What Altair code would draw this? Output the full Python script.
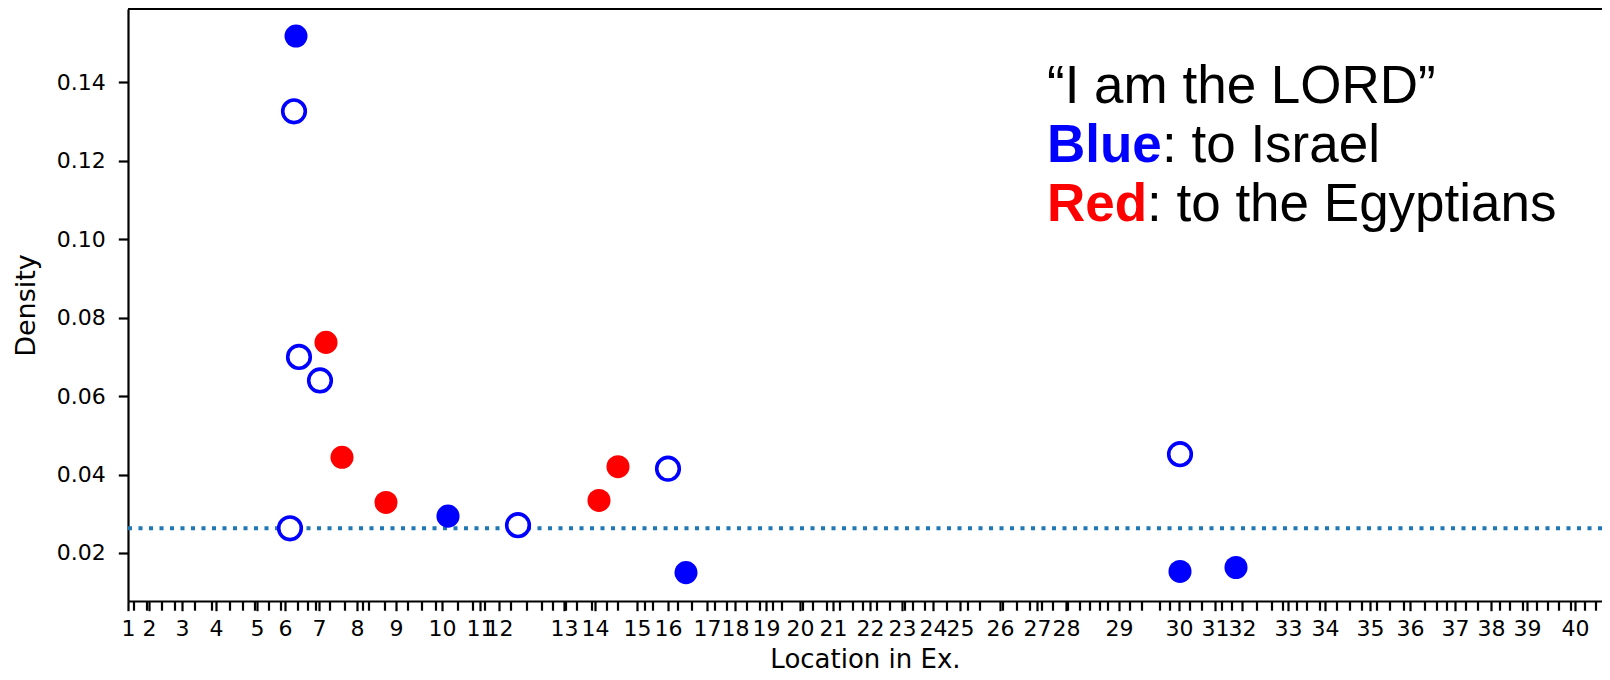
import altair as alt
import pandas as pd

# ---- data (x in arbitrary "location" units) ----
chapter_numbers = [str(i) for i in range(1, 41)]
chapter_starts = [0, 21, 54, 88, 129, 157, 191, 229, 268, 314, 352, 371, 436, 467,
                  509, 540, 579, 607, 638, 672, 705, 742, 774, 805, 832, 872, 909,
                  938, 991, 1051, 1087, 1114, 1160, 1197, 1242, 1282, 1327, 1363,
                  1399, 1447]
minor_ticks = [6, 19, 34, 47, 67, 84, 102, 115, 127, 141, 153, 170, 180, 188, 202,
               217, 235, 241, 257, 280, 294, 308, 330, 345, 357, 383, 399, 414, 425,
               438, 449, 464, 479, 490, 517, 525, 550, 564, 587, 599, 619, 632, 645,
               654, 675, 685, 699, 712, 725, 735, 749, 762, 777, 785, 797, 819, 840,
               852, 875, 889, 902, 914, 925, 940, 952, 962, 972, 980, 1002, 1014,
               1032, 1042, 1062, 1074, 1094, 1104, 1129, 1144, 1155, 1169, 1179,
               1192, 1209, 1222, 1234, 1249, 1262, 1276, 1297, 1309, 1319, 1338,
               1350, 1372, 1382, 1395, 1409, 1420, 1431, 1443, 1457, 1468]

israel_filled_loc = [168, 320, 558, 1052, 1108]
israel_filled_dens = [0.1518, 0.0294, 0.0150, 0.0153, 0.0163]
israel_open_loc = [166, 162, 171, 192, 390, 540, 1052]
israel_open_dens = [0.1326, 0.0263, 0.0700, 0.0640, 0.0271, 0.0415, 0.0452]
egypt_loc = [198, 214, 258, 471, 490]
egypt_dens = [0.0737, 0.0444, 0.0329, 0.0334, 0.0420]
baseline_density = [0.0263]
y_ticks = [0.02, 0.04, 0.06, 0.08, 0.10, 0.12, 0.14]

line1 = "\u201cI am the LORD\u201d"
blue_word, blue_rest = "Blue", ": to Israel"
red_word, red_rest = "Red", ": to the Egyptians"

W, H = 1474, 592
BLUE, RED = "#0000ff", "#ff0000"

xscale = alt.Scale(domain=[0, 1474], nice=False, zero=False)
yscale = alt.Scale(domain=[0.00776, 0.1587], nice=False, zero=False)

label_expr = ("['" + "','".join(chapter_numbers) + "'][indexof(["
              + ",".join(str(v) for v in chapter_starts) + "], datum.value)]")

x_axis = alt.Axis(values=chapter_starts, labelExpr=label_expr, title="Location in Ex.",
                  grid=False, labelOverlap=False, labelFlush=False, tickSize=9.7,
                  labelPadding=8, titleY=66, titleBaseline="alphabetic",
                  titleFontSize=26)
y_axis = alt.Axis(values=y_ticks, format=".2f", title="Density", grid=False,
                  tickSize=9.7, labelPadding=13, titleX=-102, titleY=296,
                  titleBaseline="middle", titleFontSize=27)

one = pd.DataFrame({"a": [0]})

top_spine = alt.Chart(one).mark_rule(color="black", strokeWidth=2.2).encode(
    x=alt.value(0), x2=alt.value(W), y=alt.value(0))

minor = alt.Chart(pd.DataFrame({"loc": minor_ticks})).mark_rule(
    color="black", strokeWidth=2.2).encode(
    x=alt.X("loc:Q", scale=xscale, axis=x_axis),
    y=alt.value(H), y2=alt.value(H + 9.7))

dotted = alt.Chart(pd.DataFrame({"d": baseline_density})).mark_rule(
    color="#1f77b4", strokeWidth=4, strokeDash=[4, 6.5]).encode(
    y=alt.Y("d:Q", scale=yscale, axis=y_axis))

filled_df = pd.DataFrame({
    "loc": israel_filled_loc + egypt_loc,
    "dens": israel_filled_dens + egypt_dens,
    "who": ["Israel"] * len(israel_filled_loc) + ["Egyptians"] * len(egypt_loc),
})
filled = alt.Chart(filled_df).mark_circle(size=531, opacity=1).encode(
    x=alt.X("loc:Q", scale=xscale, axis=x_axis),
    y=alt.Y("dens:Q", scale=yscale, axis=y_axis),
    color=alt.Color("who:N", scale=alt.Scale(domain=["Israel", "Egyptians"],
                                             range=[BLUE, RED]), legend=None))

open_df = pd.DataFrame({"loc": israel_open_loc, "dens": israel_open_dens})
opened = alt.Chart(open_df).mark_point(shape="circle", filled=True, fill="white",
                                       stroke=BLUE, strokeWidth=3.6, size=510,
                                       opacity=1).encode(
    x=alt.X("loc:Q", scale=xscale, axis=x_axis),
    y=alt.Y("dens:Q", scale=yscale, axis=y_axis))


def txt(s, x, y, color, weight):
    return alt.Chart(pd.DataFrame({"t": [s]})).mark_text(
        align="left", baseline="alphabetic", font="Liberation Sans",
        fontSize=53, fontWeight=weight, color=color).encode(
        x=alt.value(x), y=alt.value(y), text="t:N")


texts = [
    txt(line1, 919, 94, "black", "normal"),
    txt(blue_word, 919, 153, BLUE, "bold"),
    txt(blue_rest, 1034, 153, "black", "normal"),
    txt(red_word, 919, 212, RED, "bold"),
    txt(red_rest, 1019, 212, "black", "normal"),
]

chart = alt.layer(top_spine, minor, dotted, filled, opened, *texts).properties(
    width=W, height=H,
    autosize=alt.AutoSizeParams(type="none"),
    padding={"left": 120, "top": 1, "right": 0, "bottom": 71},
).configure_view(strokeWidth=0).configure_axis(
    labelFont="DejaVu Sans", titleFont="DejaVu Sans", labelFontSize=22,
    titleFontWeight="normal", labelColor="black",
    titleColor="black", tickColor="black", domainColor="black",
    tickWidth=2.2, domainWidth=2.2)

chart.save("out.html", embed_options={"renderer": "svg", "actions": False})
